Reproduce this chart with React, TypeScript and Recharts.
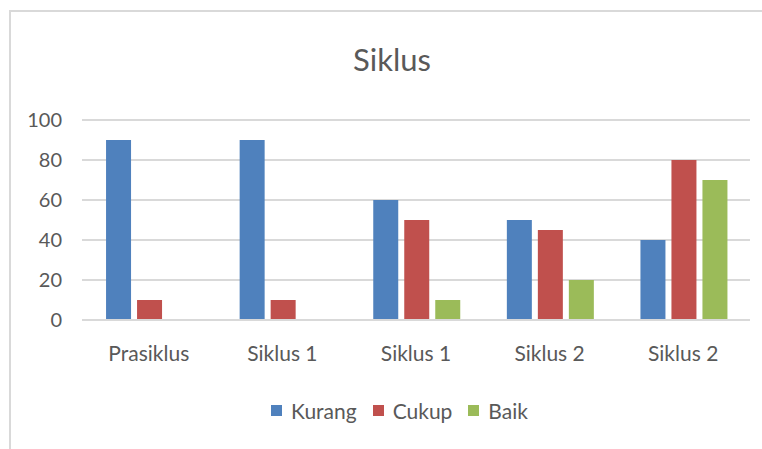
import React from 'react';
import { BarChart, Bar, XAxis, YAxis, CartesianGrid } from 'recharts';

const categories = ['Prasiklus', 'Siklus 1', 'Siklus 1', 'Siklus 2', 'Siklus 2'];
const kurang = [90, 90, 60, 50, 40];
const cukup = [10, 10, 50, 45, 80];
const baik = [0, 0, 10, 20, 70];
const yTicks = [0, 20, 40, 60, 80, 100];
const seriesNames = ['Kurang', 'Cukup', 'Baik'];
const seriesColors = ['#4F81BD', '#C0504D', '#9BBB59'];
const title = 'Siklus';

const seriesValues = [kurang, cukup, baik];
const data = categories.map((c, i) => {
  const row: Record<string, string | number> = { name: c };
  seriesNames.forEach((s, k) => {
    row[s] = seriesValues[k][i];
  });
  return row;
});

const FONT = 'Lato, "Open Sans", sans-serif';
const TEXT = '#595959';
const GRID = '#d9d9d9';

export default function App() {
  return (
    <div
      style={{
        position: 'absolute',
        left: 0,
        top: 0,
        width: 762,
        height: 449,
        overflow: 'hidden',
        background: '#fff',
        fontFamily: FONT,
      }}
    >
      <div
        style={{
          position: 'absolute',
          left: 9,
          top: 10,
          width: 800,
          height: 500,
          border: `2px solid ${GRID}`,
          boxSizing: 'border-box',
        }}
      />
      <div
        style={{
          position: 'absolute',
          left: 292,
          width: 200,
          top: 40,
          textAlign: 'center',
          fontSize: 31,
          color: TEXT,
          lineHeight: '38px',
        }}
      >
        {title}
      </div>
      <div style={{ position: 'absolute', left: 0, top: 0 }}>
        <BarChart
          width={762}
          height={449}
          data={data}
          margin={{ top: 120, right: 12, bottom: 99, left: 0 }}
          barCategoryGap="18%"
          barGap={6}
        >
          <CartesianGrid vertical={false} stroke={GRID} strokeWidth={2} />
          <XAxis
            dataKey="name"
            tickLine={false}
            axisLine={{ stroke: GRID, strokeWidth: 2 }}
            tick={{ fill: TEXT, fontSize: 21, fontFamily: FONT }}
            tickMargin={20}
            height={30}
            interval={0}
          />
          <YAxis
            width={82}
            domain={[0, 100]}
            ticks={yTicks}
            tickLine={false}
            axisLine={false}
            tick={{ fill: TEXT, fontSize: 20, fontFamily: FONT }}
            tickMargin={14}
          />
          {seriesNames.map((s, k) => (
            <Bar key={s} dataKey={s} fill={seriesColors[k]} isAnimationActive={false} />
          ))}
        </BarChart>
      </div>
      <div
        style={{
          position: 'absolute',
          left: 271,
          top: 398,
          height: 24,
          display: 'flex',
          alignItems: 'center',
          fontSize: 21,
          color: TEXT,
        }}
      >
        {seriesNames.map((s, k) => (
          <div key={s} style={{ display: 'flex', alignItems: 'center', marginRight: 16 }}>
            <div style={{ width: 11, height: 11, background: seriesColors[k], marginRight: 9 }} />
            <span>{s}</span>
          </div>
        ))}
      </div>
    </div>
  );
}
